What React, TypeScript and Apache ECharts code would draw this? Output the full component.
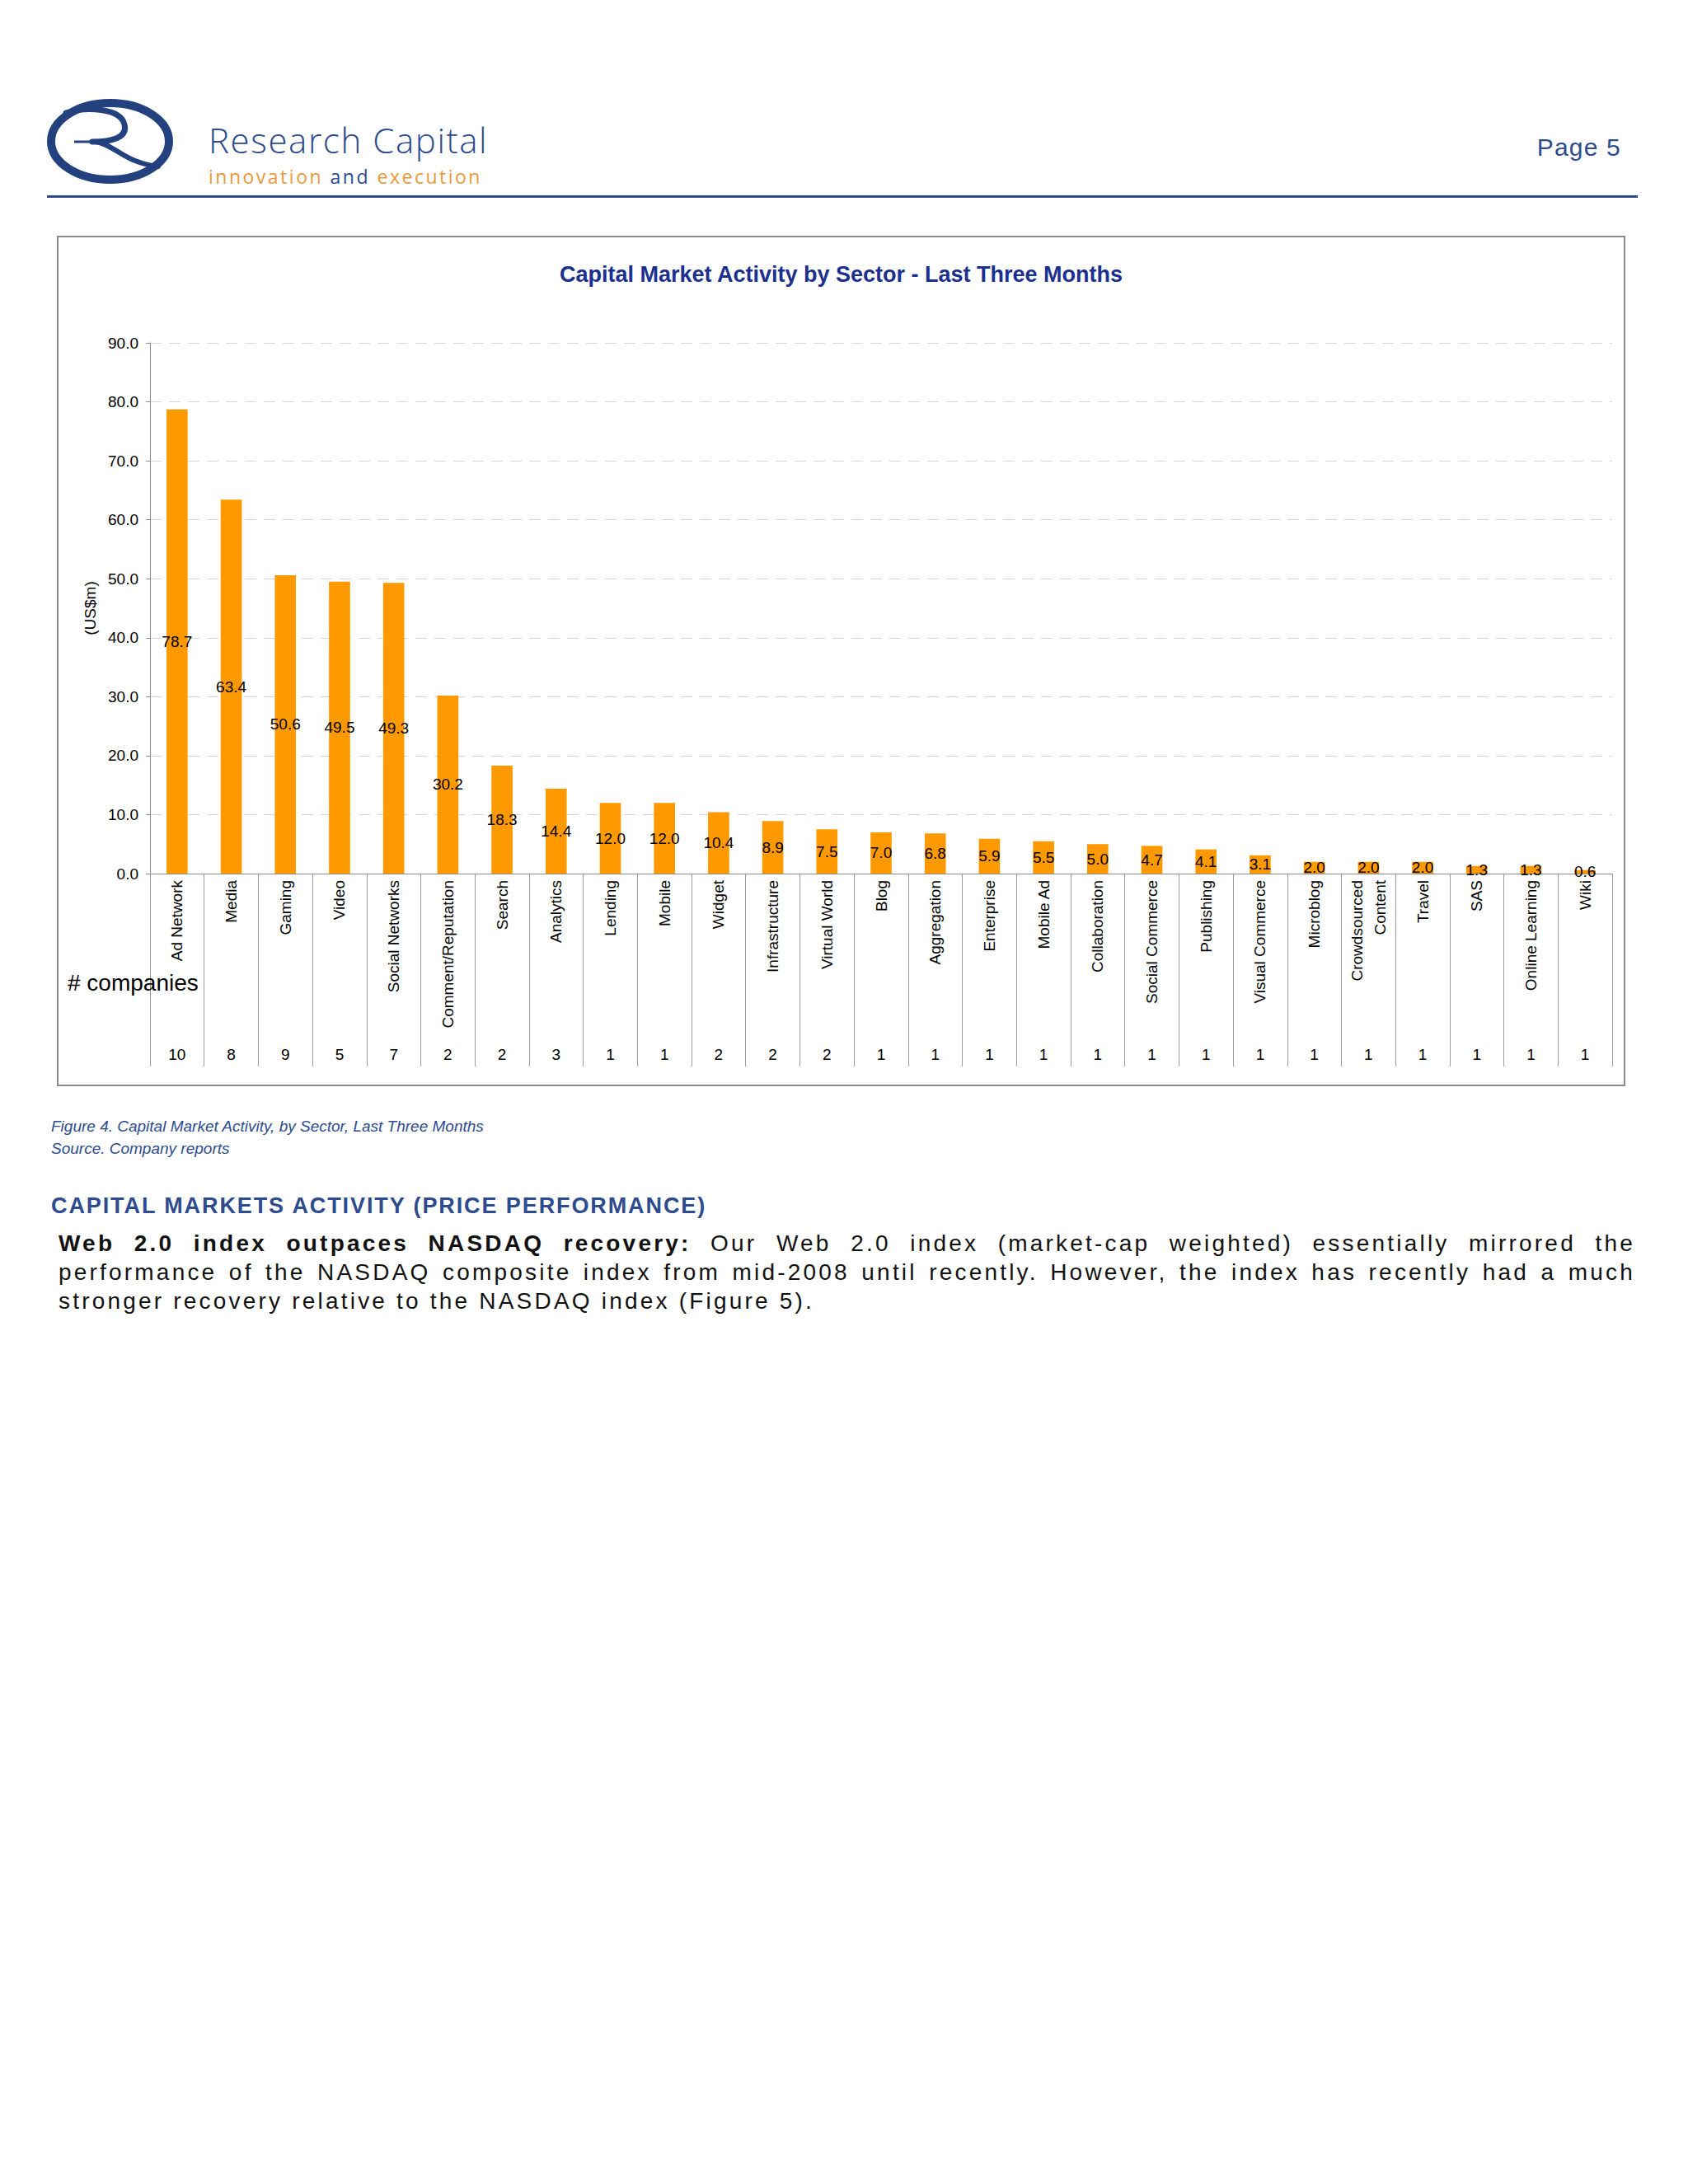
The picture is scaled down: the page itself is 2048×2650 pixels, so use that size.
import React, { useEffect, useRef } from "react";
import * as echarts from "echarts";

const categories = [
  "Ad Network", "Media", "Gaming", "Video", "Social Networks", "Comment/Reputation",
  "Search", "Analytics", "Lending", "Mobile", "Widget", "Infrastructure", "Virtual World",
  "Blog", "Aggregation", "Enterprise", "Mobile Ad", "Collaboration", "Social Commerce",
  "Publishing", "Visual Commerce", "Microblog", "Crowdsourced\nContent", "Travel", "SAS",
  "Online Learning", "Wiki",
];
const amounts = [
  78.7, 63.4, 50.6, 49.5, 49.3, 30.2, 18.3, 14.4, 12.0, 12.0, 10.4, 8.9, 7.5,
  7.0, 6.8, 5.9, 5.5, 5.0, 4.7, 4.1, 3.1, 2.0, 2.0, 2.0, 1.3, 1.3, 0.6,
];
const companies = [10, 8, 9, 5, 7, 2, 2, 3, 1, 1, 2, 2, 2, 1, 1, 1, 1, 1, 1, 1, 1, 1, 1, 1, 1, 1, 1];
const yMin = 0;
const yMax = 90;
const yStep = 10;

const chartTitle = "Capital Market Activity by Sector - Last Three Months";
const yAxisName = "(US$m)";
const countsLabel = "# companies";

const FONT = "'Liberation Sans', Arial, Helvetica, sans-serif";
const NAVY = "#2d4b8e";

function Chart() {
  const ref = useRef<HTMLDivElement>(null);
  useEffect(() => {
    if (!ref.current) return;
    const chart = echarts.init(ref.current, undefined, { renderer: "svg" });
    const W = 1903;
    const H = 1032;
    chart.setOption({
      animation: false,
      backgroundColor: "#ffffff",
      textStyle: { fontFamily: FONT },
      title: {
        text: chartTitle,
        left: "center",
        top: 28,
        textStyle: { fontFamily: FONT, fontSize: 27, fontWeight: "bold", color: "#1b2f8f" },
      },
      grid: { left: 113, right: 16, top: 130, bottom: 258, containLabel: false },
      xAxis: [
        {
          type: "category",
          data: categories,
          boundaryGap: true,
          position: "bottom",
          axisLine: { show: true, lineStyle: { color: "#8c8c8c", width: 1 } },
          axisTick: { show: true, interval: 0, length: 234, lineStyle: { color: "#9a9a9a", width: 1 } },
          axisLabel: {
            interval: 0,
            rotate: 90,
            margin: 8,
            fontSize: 19,
            lineHeight: 28,
            color: "#000",
            fontFamily: FONT,
          },
          splitLine: { show: false },
        },
        {
          type: "category",
          data: companies.map((c) => String(c)),
          position: "bottom",
          offset: 202,
          axisLine: { show: false },
          axisTick: { show: false },
          axisLabel: { interval: 0, margin: 8, fontSize: 19, color: "#000", fontFamily: FONT },
          splitLine: { show: false },
        },
      ],
      yAxis: {
        type: "value",
        min: yMin,
        max: yMax,
        interval: yStep,
        name: yAxisName,
        nameLocation: "middle",
        nameRotate: 90,
        nameGap: 63,
        nameTextStyle: { fontSize: 19, color: "#000", fontFamily: FONT },
        axisLine: { show: true, lineStyle: { color: "#8c8c8c", width: 1 } },
        axisTick: { show: true, length: 5, lineStyle: { color: "#8c8c8c" } },
        axisLabel: {
          margin: 14,
          fontSize: 19,
          color: "#000",
          fontFamily: FONT,
          formatter: (v: number) => v.toFixed(1),
        },
        splitLine: { show: true, lineStyle: { color: "#d6d6d6", width: 1, type: [14, 9] } },
      },
      series: [
        {
          type: "bar",
          xAxisIndex: 0,
          yAxisIndex: 0,
          data: amounts,
          barWidth: "39%",
          itemStyle: { color: "#FF9900" },
          label: {
            show: true,
            position: "inside",
            fontSize: 19,
            color: "#000",
            fontFamily: FONT,
            textBorderWidth: 0,
            formatter: (p: any) => Number(p.value).toFixed(1),
          },
        },
      ],
      graphic: [
        {
          type: "rect",
          shape: { x: 1, y: 1, width: W - 2, height: H - 2 },
          style: { fill: "none", stroke: "#8c8c8c", lineWidth: 2 },
          silent: true,
          z: 0,
        },
        {
          type: "text",
          x: 13,
          y: 906,
          z: 100,
          style: {
            text: countsLabel,
            fontSize: 28,
            fontFamily: FONT,
            fill: "#000",
            verticalAlign: "middle",
            align: "left",
          },
        },
      ],
    });
    return () => chart.dispose();
  }, []);
  return (
    <div
      ref={ref}
      style={{ position: "absolute", left: 69, top: 286, width: 1903, height: 1032 }}
    />
  );
}

function Logo() {
  return (
    <svg
      width={260}
      height={130}
      viewBox="0 0 260 130"
      style={{ position: "absolute", left: 50, top: 110 }}
    >
      <ellipse cx={83.5} cy={61.5} rx={71.5} ry={46.5} fill="none" stroke="#23407f" strokeWidth={10} />
      <path d="M 30 27 C 55 19, 96 21, 101 41 C 105 57, 86 62, 62 62" fill="none" stroke="#23407f" strokeWidth={7} strokeLinecap="round" />
      <path d="M 40 62 L 78 62" fill="none" stroke="#23407f" strokeWidth={3} />
      <path d="M 66 62 C 90 66, 102 88, 142 92" fill="none" stroke="#23407f" strokeWidth={6} strokeLinecap="round" />
    </svg>
  );
}

export default function App() {
  const para: React.CSSProperties = {
    position: "absolute",
    left: 71,
    width: 1913,
    fontFamily: FONT,
    fontSize: 28,
    lineHeight: "35px",
    letterSpacing: "3.2px",
    color: "#111",
  };
  return (
    <div
      style={{
        position: "absolute",
        left: 0,
        top: 0,
        width: 2048,
        height: 2650,
        overflow: "hidden",
        background: "#ffffff",
      }}
    >
      <Logo />
      <div
        style={{
          position: "absolute",
          left: 253,
          top: 149,
          fontFamily: "'Open Sans', sans-serif",
          fontSize: 42,
          fontWeight: 300,
          lineHeight: "42px",
          letterSpacing: "1.6px",
          color: NAVY,
          whiteSpace: "nowrap",
        }}
      >
        Research Capital
      </div>
      <div
        style={{
          position: "absolute",
          left: 253,
          top: 203,
          fontFamily: "'Open Sans', sans-serif",
          fontSize: 23,
          lineHeight: "23px",
          letterSpacing: "2.5px",
          whiteSpace: "nowrap",
        }}
      >
        <span style={{ color: "#e89a3c" }}>innovation</span>{" "}
        <span style={{ color: NAVY }}>and</span>{" "}
        <span style={{ color: "#e89a3c" }}>execution</span>
      </div>
      <div
        style={{
          position: "absolute",
          right: 81,
          top: 164,
          fontFamily: FONT,
          fontSize: 30,
          lineHeight: "30px",
          letterSpacing: "1.2px",
          color: NAVY,
          whiteSpace: "nowrap",
        }}
      >
        Page 5
      </div>
      <div
        style={{ position: "absolute", left: 57, top: 237, width: 1930, height: 3, background: NAVY }}
      />
      <Chart />
      <div
        style={{
          position: "absolute",
          left: 62,
          top: 1353,
          fontFamily: FONT,
          fontStyle: "italic",
          fontSize: 19,
          lineHeight: "27px",
          color: NAVY,
          whiteSpace: "nowrap",
        }}
      >
        <div>Figure 4. Capital Market Activity, by Sector, Last Three Months</div>
        <div>Source. Company reports</div>
      </div>
      <div
        style={{
          position: "absolute",
          left: 62,
          top: 1450,
          fontFamily: FONT,
          fontWeight: "bold",
          fontSize: 27,
          lineHeight: "27px",
          letterSpacing: "1.9px",
          color: NAVY,
          whiteSpace: "nowrap",
        }}
      >
        CAPITAL MARKETS ACTIVITY (PRICE PERFORMANCE)
      </div>
      <div style={{ ...para, top: 1491, textAlign: "justify", textAlignLast: "justify" as any }}>
        <b>Web 2.0 index outpaces NASDAQ recovery:</b> Our Web 2.0 index (market-cap weighted) essentially mirrored the
      </div>
      <div style={{ ...para, top: 1526, textAlign: "justify", textAlignLast: "justify" as any }}>
        performance of the NASDAQ composite index from mid-2008 until recently. However, the index has recently had a much
      </div>
      <div style={{ ...para, top: 1561 }}>
        stronger recovery relative to the NASDAQ index (Figure 5).
      </div>
    </div>
  );
}
